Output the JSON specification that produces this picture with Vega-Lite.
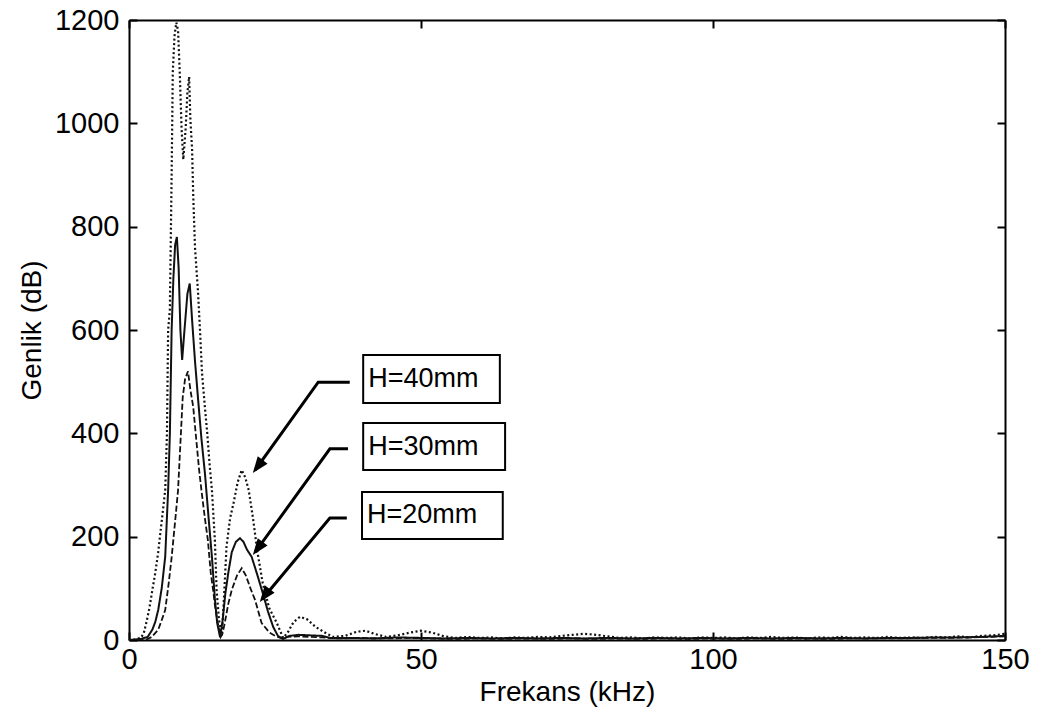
{
  "$schema": "https://vega.github.io/schema/vega-lite/v6.json",
  "width": 876,
  "height": 620,
  "autosize": {"type": "none"},
  "padding": {"left": 129, "top": 20, "right": 39, "bottom": 73},
  "background": "white",
  "config": {
    "view": {"stroke": null},
    "font": "Liberation Sans",
    "axis": {
      "grid": false,
      "domainColor": "#000",
      "domainWidth": 2,
      "tickColor": "#000",
      "tickWidth": 2,
      "tickSize": -8,
      "labelColor": "#000",
      "titleColor": "#000",
      "labelFont": "Liberation Sans",
      "titleFont": "Liberation Sans",
      "labelFontSize": 29,
      "titleFontSize": 28,
      "titleFontWeight": "normal",
      "labelFlush": false,
      "labelOverlap": false,
      "format": "d"
    }
  },
  "datasets": {
    "spectra": [
      {"H": "H=40mm", "f": 0, "a": 0}, {"H": "H=40mm", "f": 1, "a": 1}, {"H": "H=40mm", "f": 2, "a": 4}, {"H": "H=40mm", "f": 2.5, "a": 12},
      {"H": "H=40mm", "f": 3, "a": 35}, {"H": "H=40mm", "f": 3.5, "a": 62}, {"H": "H=40mm", "f": 4, "a": 97}, {"H": "H=40mm", "f": 4.5, "a": 130},
      {"H": "H=40mm", "f": 5, "a": 170}, {"H": "H=40mm", "f": 5.3, "a": 200}, {"H": "H=40mm", "f": 5.8, "a": 250}, {"H": "H=40mm", "f": 6.2, "a": 290},
      {"H": "H=40mm", "f": 6.5, "a": 400}, {"H": "H=40mm", "f": 6.7, "a": 600}, {"H": "H=40mm", "f": 7.0, "a": 640}, {"H": "H=40mm", "f": 7.3, "a": 900},
      {"H": "H=40mm", "f": 7.5, "a": 1100}, {"H": "H=40mm", "f": 7.8, "a": 1170}, {"H": "H=40mm", "f": 8.1, "a": 1195}, {"H": "H=40mm", "f": 8.4, "a": 1180},
      {"H": "H=40mm", "f": 8.7, "a": 1095}, {"H": "H=40mm", "f": 9.0, "a": 990}, {"H": "H=40mm", "f": 9.3, "a": 930}, {"H": "H=40mm", "f": 9.7, "a": 990},
      {"H": "H=40mm", "f": 10.0, "a": 1060}, {"H": "H=40mm", "f": 10.3, "a": 1090}, {"H": "H=40mm", "f": 10.5, "a": 1010}, {"H": "H=40mm", "f": 10.8, "a": 950},
      {"H": "H=40mm", "f": 11.0, "a": 860}, {"H": "H=40mm", "f": 11.3, "a": 760}, {"H": "H=40mm", "f": 11.8, "a": 677}, {"H": "H=40mm", "f": 12.2, "a": 590},
      {"H": "H=40mm", "f": 12.5, "a": 517}, {"H": "H=40mm", "f": 13.0, "a": 450}, {"H": "H=40mm", "f": 13.4, "a": 400}, {"H": "H=40mm", "f": 13.8, "a": 340},
      {"H": "H=40mm", "f": 14.2, "a": 290}, {"H": "H=40mm", "f": 14.7, "a": 194}, {"H": "H=40mm", "f": 15.0, "a": 97}, {"H": "H=40mm", "f": 15.4, "a": 40},
      {"H": "H=40mm", "f": 15.9, "a": 8}, {"H": "H=40mm", "f": 16.3, "a": 90}, {"H": "H=40mm", "f": 16.7, "a": 181}, {"H": "H=40mm", "f": 17.3, "a": 235},
      {"H": "H=40mm", "f": 17.9, "a": 265}, {"H": "H=40mm", "f": 18.6, "a": 305}, {"H": "H=40mm", "f": 19.3, "a": 329}, {"H": "H=40mm", "f": 19.9, "a": 315},
      {"H": "H=40mm", "f": 20.5, "a": 290}, {"H": "H=40mm", "f": 21.2, "a": 238}, {"H": "H=40mm", "f": 22.0, "a": 170}, {"H": "H=40mm", "f": 22.9, "a": 110},
      {"H": "H=40mm", "f": 24.0, "a": 62}, {"H": "H=40mm", "f": 25.3, "a": 33}, {"H": "H=40mm", "f": 26.4, "a": 4}, {"H": "H=40mm", "f": 27.2, "a": 15},
      {"H": "H=40mm", "f": 28.2, "a": 35}, {"H": "H=40mm", "f": 29.3, "a": 45}, {"H": "H=40mm", "f": 30.5, "a": 40}, {"H": "H=40mm", "f": 32.0, "a": 25},
      {"H": "H=40mm", "f": 33.9, "a": 12}, {"H": "H=40mm", "f": 35, "a": 6}, {"H": "H=40mm", "f": 37, "a": 8}, {"H": "H=40mm", "f": 39, "a": 16},
      {"H": "H=40mm", "f": 40.5, "a": 18}, {"H": "H=40mm", "f": 42, "a": 12}, {"H": "H=40mm", "f": 44, "a": 6}, {"H": "H=40mm", "f": 46, "a": 9},
      {"H": "H=40mm", "f": 48, "a": 14}, {"H": "H=40mm", "f": 50, "a": 18}, {"H": "H=40mm", "f": 52, "a": 14}, {"H": "H=40mm", "f": 54, "a": 7},
      {"H": "H=40mm", "f": 56, "a": 4}, {"H": "H=40mm", "f": 58, "a": 6}, {"H": "H=40mm", "f": 60, "a": 4}, {"H": "H=40mm", "f": 62, "a": 5},
      {"H": "H=40mm", "f": 64, "a": 3}, {"H": "H=40mm", "f": 66, "a": 5}, {"H": "H=40mm", "f": 68, "a": 4}, {"H": "H=40mm", "f": 70, "a": 6},
      {"H": "H=40mm", "f": 72, "a": 5}, {"H": "H=40mm", "f": 74, "a": 8}, {"H": "H=40mm", "f": 76, "a": 10}, {"H": "H=40mm", "f": 78, "a": 12},
      {"H": "H=40mm", "f": 80, "a": 10}, {"H": "H=40mm", "f": 82, "a": 7}, {"H": "H=40mm", "f": 84, "a": 4}, {"H": "H=40mm", "f": 86, "a": 5},
      {"H": "H=40mm", "f": 88, "a": 3}, {"H": "H=40mm", "f": 90, "a": 5}, {"H": "H=40mm", "f": 92, "a": 4}, {"H": "H=40mm", "f": 94, "a": 5},
      {"H": "H=40mm", "f": 96, "a": 3}, {"H": "H=40mm", "f": 98, "a": 5}, {"H": "H=40mm", "f": 100, "a": 4}, {"H": "H=40mm", "f": 102, "a": 5},
      {"H": "H=40mm", "f": 104, "a": 3}, {"H": "H=40mm", "f": 106, "a": 5}, {"H": "H=40mm", "f": 108, "a": 4}, {"H": "H=40mm", "f": 110, "a": 6},
      {"H": "H=40mm", "f": 112, "a": 4}, {"H": "H=40mm", "f": 114, "a": 5}, {"H": "H=40mm", "f": 116, "a": 3}, {"H": "H=40mm", "f": 118, "a": 5},
      {"H": "H=40mm", "f": 120, "a": 4}, {"H": "H=40mm", "f": 122, "a": 6}, {"H": "H=40mm", "f": 124, "a": 4}, {"H": "H=40mm", "f": 126, "a": 5},
      {"H": "H=40mm", "f": 128, "a": 4}, {"H": "H=40mm", "f": 130, "a": 6}, {"H": "H=40mm", "f": 132, "a": 4}, {"H": "H=40mm", "f": 134, "a": 5},
      {"H": "H=40mm", "f": 136, "a": 4}, {"H": "H=40mm", "f": 138, "a": 6}, {"H": "H=40mm", "f": 140, "a": 5}, {"H": "H=40mm", "f": 142, "a": 7},
      {"H": "H=40mm", "f": 144, "a": 5}, {"H": "H=40mm", "f": 146, "a": 8}, {"H": "H=40mm", "f": 148, "a": 9}, {"H": "H=40mm", "f": 150, "a": 12},

      {"H": "H=30mm", "f": 0, "a": 0}, {"H": "H=30mm", "f": 2, "a": 2}, {"H": "H=30mm", "f": 3.2, "a": 6}, {"H": "H=30mm", "f": 4, "a": 20},
      {"H": "H=30mm", "f": 4.5, "a": 35}, {"H": "H=30mm", "f": 5.0, "a": 58}, {"H": "H=30mm", "f": 5.6, "a": 100}, {"H": "H=30mm", "f": 6.2, "a": 161},
      {"H": "H=30mm", "f": 6.7, "a": 290}, {"H": "H=30mm", "f": 7.0, "a": 400}, {"H": "H=30mm", "f": 7.3, "a": 600}, {"H": "H=30mm", "f": 7.6, "a": 700},
      {"H": "H=30mm", "f": 7.9, "a": 765}, {"H": "H=30mm", "f": 8.2, "a": 780}, {"H": "H=30mm", "f": 8.5, "a": 720}, {"H": "H=30mm", "f": 8.8, "a": 600},
      {"H": "H=30mm", "f": 9.1, "a": 542}, {"H": "H=30mm", "f": 9.5, "a": 600}, {"H": "H=30mm", "f": 10.0, "a": 670}, {"H": "H=30mm", "f": 10.4, "a": 690},
      {"H": "H=30mm", "f": 10.8, "a": 620}, {"H": "H=30mm", "f": 11.3, "a": 540}, {"H": "H=30mm", "f": 11.8, "a": 470}, {"H": "H=30mm", "f": 12.4, "a": 390},
      {"H": "H=30mm", "f": 13.0, "a": 323}, {"H": "H=30mm", "f": 13.6, "a": 240}, {"H": "H=30mm", "f": 14.2, "a": 161}, {"H": "H=30mm", "f": 14.7, "a": 80},
      {"H": "H=30mm", "f": 15.1, "a": 33}, {"H": "H=30mm", "f": 15.6, "a": 5}, {"H": "H=30mm", "f": 16.0, "a": 35}, {"H": "H=30mm", "f": 16.5, "a": 90},
      {"H": "H=30mm", "f": 17.0, "a": 130}, {"H": "H=30mm", "f": 17.6, "a": 170}, {"H": "H=30mm", "f": 18.3, "a": 190}, {"H": "H=30mm", "f": 19.0, "a": 197},
      {"H": "H=30mm", "f": 19.6, "a": 190}, {"H": "H=30mm", "f": 20.2, "a": 175}, {"H": "H=30mm", "f": 21.0, "a": 161}, {"H": "H=30mm", "f": 22.0, "a": 125},
      {"H": "H=30mm", "f": 22.9, "a": 91}, {"H": "H=30mm", "f": 23.8, "a": 55}, {"H": "H=30mm", "f": 24.7, "a": 25}, {"H": "H=30mm", "f": 25.5, "a": 8},
      {"H": "H=30mm", "f": 26.4, "a": 2}, {"H": "H=30mm", "f": 27.5, "a": 8}, {"H": "H=30mm", "f": 29, "a": 10}, {"H": "H=30mm", "f": 31, "a": 9},
      {"H": "H=30mm", "f": 33, "a": 8}, {"H": "H=30mm", "f": 34.5, "a": 4}, {"H": "H=30mm", "f": 38, "a": 4}, {"H": "H=30mm", "f": 42, "a": 3},
      {"H": "H=30mm", "f": 46, "a": 5}, {"H": "H=30mm", "f": 50, "a": 4}, {"H": "H=30mm", "f": 54, "a": 3}, {"H": "H=30mm", "f": 58, "a": 4},
      {"H": "H=30mm", "f": 62, "a": 3}, {"H": "H=30mm", "f": 66, "a": 4}, {"H": "H=30mm", "f": 70, "a": 3}, {"H": "H=30mm", "f": 74, "a": 4},
      {"H": "H=30mm", "f": 78, "a": 3}, {"H": "H=30mm", "f": 82, "a": 4}, {"H": "H=30mm", "f": 86, "a": 3}, {"H": "H=30mm", "f": 90, "a": 4},
      {"H": "H=30mm", "f": 94, "a": 3}, {"H": "H=30mm", "f": 98, "a": 4}, {"H": "H=30mm", "f": 102, "a": 3}, {"H": "H=30mm", "f": 106, "a": 4},
      {"H": "H=30mm", "f": 110, "a": 3}, {"H": "H=30mm", "f": 114, "a": 4}, {"H": "H=30mm", "f": 118, "a": 3}, {"H": "H=30mm", "f": 122, "a": 4},
      {"H": "H=30mm", "f": 126, "a": 3}, {"H": "H=30mm", "f": 130, "a": 4}, {"H": "H=30mm", "f": 134, "a": 4}, {"H": "H=30mm", "f": 138, "a": 5},
      {"H": "H=30mm", "f": 142, "a": 5}, {"H": "H=30mm", "f": 146, "a": 6}, {"H": "H=30mm", "f": 150, "a": 8},

      {"H": "H=20mm", "f": 0, "a": 0}, {"H": "H=20mm", "f": 3, "a": 1}, {"H": "H=20mm", "f": 3.9, "a": 6}, {"H": "H=20mm", "f": 5, "a": 20},
      {"H": "H=20mm", "f": 5.5, "a": 35}, {"H": "H=20mm", "f": 6.2, "a": 58}, {"H": "H=20mm", "f": 6.8, "a": 110}, {"H": "H=20mm", "f": 7.3, "a": 160},
      {"H": "H=20mm", "f": 7.9, "a": 230}, {"H": "H=20mm", "f": 8.4, "a": 290}, {"H": "H=20mm", "f": 8.8, "a": 380}, {"H": "H=20mm", "f": 9.2, "a": 470},
      {"H": "H=20mm", "f": 9.6, "a": 505}, {"H": "H=20mm", "f": 10.1, "a": 520}, {"H": "H=20mm", "f": 10.5, "a": 485}, {"H": "H=20mm", "f": 11.0, "a": 451},
      {"H": "H=20mm", "f": 11.5, "a": 390}, {"H": "H=20mm", "f": 12.0, "a": 330}, {"H": "H=20mm", "f": 12.4, "a": 290}, {"H": "H=20mm", "f": 13.0, "a": 235},
      {"H": "H=20mm", "f": 13.5, "a": 194}, {"H": "H=20mm", "f": 14.0, "a": 130}, {"H": "H=20mm", "f": 14.4, "a": 97}, {"H": "H=20mm", "f": 14.8, "a": 60},
      {"H": "H=20mm", "f": 15.2, "a": 33}, {"H": "H=20mm", "f": 15.7, "a": 6}, {"H": "H=20mm", "f": 16.0, "a": 12}, {"H": "H=20mm", "f": 16.4, "a": 33},
      {"H": "H=20mm", "f": 17.0, "a": 70}, {"H": "H=20mm", "f": 17.6, "a": 97}, {"H": "H=20mm", "f": 18.5, "a": 125}, {"H": "H=20mm", "f": 19.3, "a": 139},
      {"H": "H=20mm", "f": 20.0, "a": 125}, {"H": "H=20mm", "f": 20.8, "a": 100}, {"H": "H=20mm", "f": 21.6, "a": 77}, {"H": "H=20mm", "f": 22.7, "a": 33},
      {"H": "H=20mm", "f": 24.0, "a": 15}, {"H": "H=20mm", "f": 25.0, "a": 8}, {"H": "H=20mm", "f": 25.9, "a": 4}, {"H": "H=20mm", "f": 27, "a": 6},
      {"H": "H=20mm", "f": 29, "a": 7}, {"H": "H=20mm", "f": 31, "a": 6}, {"H": "H=20mm", "f": 33, "a": 5}, {"H": "H=20mm", "f": 36, "a": 3},
      {"H": "H=20mm", "f": 40, "a": 4}, {"H": "H=20mm", "f": 44, "a": 3}, {"H": "H=20mm", "f": 48, "a": 4}, {"H": "H=20mm", "f": 52, "a": 3},
      {"H": "H=20mm", "f": 56, "a": 2}, {"H": "H=20mm", "f": 60, "a": 3}, {"H": "H=20mm", "f": 64, "a": 2}, {"H": "H=20mm", "f": 68, "a": 3},
      {"H": "H=20mm", "f": 72, "a": 2}, {"H": "H=20mm", "f": 76, "a": 3}, {"H": "H=20mm", "f": 80, "a": 2}, {"H": "H=20mm", "f": 84, "a": 3},
      {"H": "H=20mm", "f": 88, "a": 2}, {"H": "H=20mm", "f": 92, "a": 3}, {"H": "H=20mm", "f": 96, "a": 2}, {"H": "H=20mm", "f": 100, "a": 3},
      {"H": "H=20mm", "f": 104, "a": 2}, {"H": "H=20mm", "f": 108, "a": 3}, {"H": "H=20mm", "f": 112, "a": 2}, {"H": "H=20mm", "f": 116, "a": 3},
      {"H": "H=20mm", "f": 120, "a": 2}, {"H": "H=20mm", "f": 124, "a": 3}, {"H": "H=20mm", "f": 128, "a": 3}, {"H": "H=20mm", "f": 132, "a": 3},
      {"H": "H=20mm", "f": 136, "a": 4}, {"H": "H=20mm", "f": 140, "a": 4}, {"H": "H=20mm", "f": 144, "a": 5}, {"H": "H=20mm", "f": 150, "a": 7}
    ],
    "labels": [
      {"label": "H=40mm", "left": 40.1, "right": 63.5, "top": 551.6, "bottom": 458.7, "mid": 505},
      {"label": "H=30mm", "left": 40.1, "right": 64.4, "top": 420, "bottom": 329, "mid": 374.5},
      {"label": "H=20mm", "left": 39.9, "right": 64.0, "top": 286.4, "bottom": 195.5, "mid": 241}
    ],
    "leaders": [
      {"label": "H=40mm", "step": 0, "f": 37.8, "a": 499},
      {"label": "H=40mm", "step": 1, "f": 32.4, "a": 499},
      {"label": "H=40mm", "step": 2, "f": 21.6, "a": 329},
      {"label": "H=30mm", "step": 0, "f": 37.5, "a": 370},
      {"label": "H=30mm", "step": 1, "f": 34.4, "a": 370},
      {"label": "H=30mm", "step": 2, "f": 21.6, "a": 170},
      {"label": "H=20mm", "step": 0, "f": 37.3, "a": 236},
      {"label": "H=20mm", "step": 1, "f": 34.4, "a": 236},
      {"label": "H=20mm", "step": 2, "f": 22.8, "a": 79}
    ],
    "tips": [
      {"label": "H=40mm", "f": 21.2, "a": 323},
      {"label": "H=30mm", "f": 21.2, "a": 164.5},
      {"label": "H=20mm", "f": 22.4, "a": 73.5}
    ]
  },
  "layer": [
    {
      "data": {"name": "spectra"},
      "mark": {"type": "line", "clip": true, "color": "#111"},
      "encoding": {
        "x": {
          "field": "f", "type": "quantitative",
          "scale": {"domain": [0, 150], "nice": false, "zero": false},
          "axis": {"orient": "bottom", "values": [0, 50, 100, 150], "title": "Frekans (kHz)", "labelPadding": 13, "titlePadding": 4}
        },
        "y": {
          "field": "a", "type": "quantitative",
          "scale": {"domain": [0, 1200], "nice": false},
          "axis": {"orient": "left", "values": [0, 200, 400, 600, 800, 1000, 1200], "title": "Genlik (dB)", "labelPadding": 18, "titlePadding": 8}
        },
        "strokeDash": {
          "field": "H", "type": "nominal",
          "scale": {"domain": ["H=40mm", "H=30mm", "H=20mm"], "range": [[2, 2.5], [1, 0], [6, 2.5]]},
          "legend": null
        },
        "strokeWidth": {
          "field": "H", "type": "nominal",
          "scale": {"domain": ["H=40mm", "H=30mm", "H=20mm"], "range": [2.2, 1.8, 1.8]},
          "legend": null
        }
      }
    },
    {
      "data": {"name": "labels"},
      "mark": {"type": "rect", "fill": "white", "stroke": "#000", "strokeWidth": 2},
      "encoding": {
        "x": {
          "field": "left", "type": "quantitative",
          "scale": {"domain": [0, 150], "nice": false, "zero": false},
          "axis": {"orient": "top", "values": [0, 50, 100, 150], "labels": false, "title": null}
        },
        "x2": {"field": "right"},
        "y": {
          "field": "top", "type": "quantitative",
          "scale": {"domain": [0, 1200], "nice": false},
          "axis": {"orient": "right", "values": [0, 200, 400, 600, 800, 1000, 1200], "labels": false, "title": null}
        },
        "y2": {"field": "bottom"}
      }
    },
    {
      "data": {"name": "labels"},
      "mark": {"type": "text", "align": "left", "baseline": "middle", "dx": 5, "fontSize": 27, "font": "Liberation Sans", "color": "#000"},
      "encoding": {
        "x": {"field": "left", "type": "quantitative", "scale": {"domain": [0, 150], "nice": false, "zero": false}, "axis": null},
        "y": {"field": "mid", "type": "quantitative", "scale": {"domain": [0, 1200], "nice": false}, "axis": null},
        "text": {"field": "label"}
      }
    },
    {
      "data": {"name": "leaders"},
      "mark": {"type": "line", "strokeWidth": 3, "color": "#000"},
      "encoding": {
        "x": {"field": "f", "type": "quantitative", "scale": {"domain": [0, 150], "nice": false, "zero": false}, "axis": null},
        "y": {"field": "a", "type": "quantitative", "scale": {"domain": [0, 1200], "nice": false}, "axis": null},
        "detail": {"field": "label"},
        "order": {"field": "step", "type": "quantitative"}
      }
    },
    {
      "data": {"name": "tips"},
      "mark": {"type": "point", "shape": "M0,0L-0.6,1.6L0.6,1.6Z", "filled": true, "color": "#000", "opacity": 1, "size": 420, "angle": 217},
      "encoding": {
        "x": {"field": "f", "type": "quantitative", "scale": {"domain": [0, 150], "nice": false, "zero": false}, "axis": null},
        "y": {"field": "a", "type": "quantitative", "scale": {"domain": [0, 1200], "nice": false}, "axis": null}
      }
    }
  ],
  "resolve": {"axis": {"x": "independent", "y": "independent"}}
}
